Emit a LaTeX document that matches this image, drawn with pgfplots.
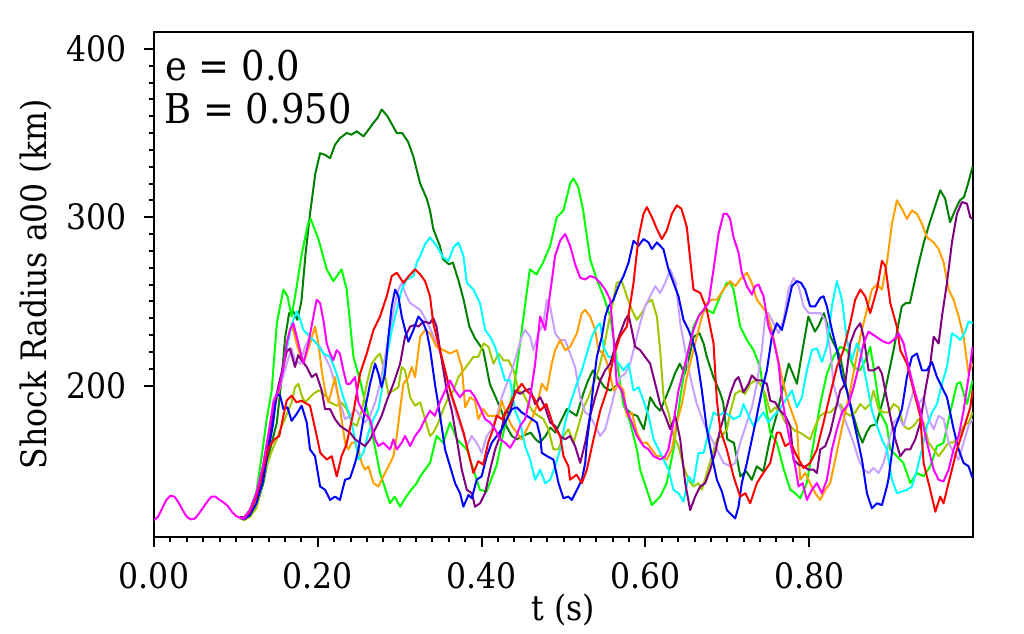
\documentclass[border=0pt]{standalone}
\usepackage{fontspec}
\setmainfont{DejaVu Serif}[FakeStretch=0.9]
\usepackage{pgfplots}
\pgfplotsset{compat=1.18}
\definecolor{cDG}{RGB}{0,128,0}
\definecolor{cG}{RGB}{0,255,0}
\definecolor{cR}{RGB}{255,0,0}
\definecolor{cB}{RGB}{0,0,255}
\definecolor{cC}{RGB}{0,255,255}
\definecolor{cM}{RGB}{255,0,255}
\definecolor{cO}{RGB}{255,160,0}
\definecolor{cP}{RGB}{128,0,128}
\definecolor{cYG}{RGB}{160,200,0}
\definecolor{cL}{RGB}{200,160,255}
\begin{document}
\begin{tikzpicture}
\begin{axis}[
  scale only axis, width=409.5pt, height=252.5pt,
  xmin=0, xmax=1, ymin=110, ymax=410,
  axis line style={line width=1pt},
  tick style={line width=1pt, black},
  tick align=outside, tick pos=left,
  major tick length=5pt, minor tick length=2.5pt,
  xtick={0,0.2,0.4,0.6,0.8}, ytick={200,300,400},
  minor x tick num=9, minor y tick num=9,
  /pgf/number format/assume math mode=true,
  tick label style={font=\fontsize{17.5}{21}\selectfont},
  xticklabel style={anchor=base, yshift=-20.5pt, /pgf/number format/.cd, fixed, fixed zerofill, precision=2},
  yticklabel style={anchor=east, inner sep=0pt, xshift=-8.5pt},
  label style={font=\fontsize{17.5}{21}\selectfont},
  xlabel={t (s)},
  xlabel style={at={(axis description cs:0.5,-0.1644)}, anchor=base, inner sep=0pt},
  ylabel={Shock Radius a00 (km)},
  ylabel style={at={(axis description cs:-0.1636,0.5)}, anchor=north, inner sep=0pt},
  every axis plot/.append style={line width=1pt, line join=round, mark=none},
]
% dark green
\addplot[cDG] coordinates {(0.105,121.5) (0.11,121) (0.117,122) (0.125,128) (0.1335,142) (0.1417,162) (0.15,178) (0.156,205) (0.16,228) (0.165,243) (0.17,244) (0.175,239) (0.18,250) (0.185,278) (0.1905,302) (0.197,326) (0.2028,338) (0.209,337) (0.215,335) (0.221,343) (0.2272,347) (0.2353,350) (0.241,349) (0.2475,351) (0.2557,348) (0.262,352) (0.2679,356) (0.273,359) (0.2781,364) (0.285,360) (0.2964,350) (0.303,350) (0.31,345) (0.3167,336) (0.325,320) (0.333,311) (0.337,304) (0.341,293) (0.349,283) (0.353,275) (0.36,272) (0.365,273) (0.372,262) (0.378,251) (0.385,235) (0.392,228) (0.402,221) (0.41,201) (0.419,191) (0.425,184) (0.43,176) (0.437,170) (0.443,168) (0.45,170) (0.46,172) (0.466,168) (0.471,166) (0.478,170) (0.484,175) (0.49,172) (0.496,178) (0.504,186) (0.51,184) (0.516,182) (0.524,195) (0.53,203) (0.536,209) (0.543,204) (0.55,199) (0.557,197) (0.562,199) (0.568,201) (0.577,186) (0.583,183) (0.59,182) (0.598,174) (0.606,193) (0.612,188) (0.618,185) (0.624,192) (0.63,199) (0.636,207) (0.642,213) (0.648,207) (0.653,216) (0.659,229) (0.666,231) (0.671,225) (0.675,217) (0.683,205) (0.691,196) (0.695,190) (0.70,168) (0.708,166) (0.716,146) (0.723,149) (0.73,144) (0.736,152) (0.744,149) (0.752,168) (0.76,182) (0.769,201) (0.775,213) (0.78,207) (0.785,201) (0.79,216) (0.799,241) (0.807,232) (0.812,236) (0.818,243) (0.826,229) (0.832,223) (0.838,217) (0.846,197) (0.854,182) (0.86,172) (0.865,166) (0.87,172) (0.875,176) (0.882,177) (0.891,193) (0.897,207) (0.903,221) (0.913,247) (0.918,249) (0.923,249) (0.932,269) (0.94,285) (0.946,295) (0.952,304) (0.96,316) (0.966,311) (0.972,297) (0.978,304) (0.984,310) (0.989,312) (0.994,320) (0.9995,330)};
% green
\addplot[cG] coordinates {(0.105,121.5) (0.11,121) (0.117,126) (0.125,137) (0.1315,158) (0.1376,180) (0.1437,197) (0.15,237) (0.158,257) (0.163,253) (0.168,241) (0.174,258) (0.18,277) (0.188,296) (0.1913,299) (0.2007,287) (0.2109,269) (0.219,262) (0.229,269) (0.2353,257) (0.2435,217) (0.2516,203) (0.2638,178) (0.276,148) (0.2882,130) (0.294,134) (0.3005,128) (0.308,134) (0.314,138) (0.3208,142) (0.325,146) (0.331,150) (0.337,154) (0.345,170) (0.353,166) (0.3615,178) (0.37,168) (0.382,162) (0.39,150) (0.398,138) (0.406,137) (0.418,152) (0.431,182) (0.439,197) (0.447,225) (0.455,255) (0.459,269) (0.467,266) (0.475,273) (0.4837,283) (0.4918,300) (0.5,304) (0.5081,320) (0.512,323) (0.518,318) (0.524,304) (0.5325,275) (0.5407,263) (0.5488,253) (0.557,241) (0.565,215) (0.573,189) (0.5814,178) (0.5896,162) (0.5936,150) (0.6018,138) (0.6079,129) (0.618,134) (0.626,142) (0.6343,162) (0.6425,193) (0.6506,217) (0.6587,235) (0.6669,243) (0.675,245) (0.683,243) (0.6913,253) (0.6994,261) (0.7035,261) (0.7076,257) (0.7157,235) (0.724,227) (0.732,221) (0.740,211) (0.744,197) (0.7524,172) (0.7605,166) (0.769,150) (0.777,138) (0.783,136) (0.789,133) (0.797,142) (0.8053,166) (0.8135,189) (0.8216,207) (0.8297,217) (0.8379,223) (0.846,221) (0.8542,211) (0.862,209) (0.8705,217) (0.8745,223) (0.8786,211) (0.8867,184) (0.8949,176) (0.899,162) (0.907,158) (0.915,154) (0.9234,142) (0.9315,148) (0.9397,146) (0.9478,152) (0.956,164) (0.964,166) (0.9722,184) (0.9804,201) (0.9845,202) (0.9926,189) (0.9995,203)};
% yellow-green
\addplot[cYG] coordinates {(0.105,121) (0.11,120) (0.117,122) (0.125,127) (0.1315,140) (0.1376,152) (0.143,160) (0.1498,168) (0.154,174) (0.158,178) (0.163,184) (0.168,190) (0.1722,199) (0.1763,201) (0.1803,194) (0.1844,190) (0.1885,192) (0.1946,195) (0.2007,197) (0.2048,196) (0.2109,193) (0.215,190) (0.2231,188) (0.229,190) (0.2353,186) (0.2414,178) (0.2475,176) (0.2536,185) (0.2598,201) (0.2658,213) (0.272,217) (0.276,219) (0.2801,211) (0.2862,195) (0.2923,197) (0.2984,199) (0.3025,211) (0.3066,209) (0.3127,193) (0.3188,188) (0.325,190) (0.331,180) (0.337,170) (0.341,172) (0.3473,178) (0.3534,186) (0.3595,193) (0.3656,197) (0.3717,205) (0.3778,209) (0.384,213) (0.39,217) (0.396,217) (0.4023,225) (0.4084,223) (0.4145,213) (0.4206,219) (0.4267,215) (0.4328,215) (0.439,209) (0.445,197) (0.4511,195) (0.4572,189) (0.4633,184) (0.4694,182) (0.4755,180) (0.4816,174) (0.4877,162) (0.4938,162) (0.5,170) (0.5061,174) (0.5122,166) (0.5183,176) (0.5244,187) (0.5305,193) (0.5366,201) (0.5427,209) (0.5488,221) (0.555,237) (0.561,251) (0.565,261) (0.5712,262) (0.5773,253) (0.5834,245) (0.5895,239) (0.5957,243) (0.6018,249) (0.6079,251) (0.614,241) (0.618,221) (0.6222,193) (0.6282,184) (0.6343,170) (0.6404,164) (0.6465,152) (0.6527,144) (0.6587,140) (0.6649,142) (0.669,138) (0.675,148) (0.6812,158) (0.6873,168) (0.6934,170) (0.6995,174) (0.7035,184) (0.7096,195) (0.7157,197) (0.7218,195) (0.728,201) (0.734,203) (0.7401,201) (0.7463,195) (0.7524,184) (0.7585,187) (0.7646,185) (0.7707,178) (0.7768,176) (0.7829,173) (0.789,172) (0.7951,170) (0.8012,168) (0.8073,176) (0.8135,182) (0.8196,184) (0.8257,184) (0.8318,187) (0.8379,189) (0.844,184) (0.8501,182) (0.8562,184) (0.8623,189) (0.8684,186) (0.8745,189) (0.8786,197) (0.8847,186) (0.8908,184) (0.8969,184) (0.903,189) (0.9091,187) (0.9153,176) (0.9214,174) (0.9275,176) (0.9336,180) (0.9397,178) (0.9458,166) (0.952,162) (0.958,158) (0.9642,162) (0.9702,166) (0.9763,166) (0.9825,170) (0.9885,176) (0.9946,178) (0.9995,184)};
% lavender
\addplot[cL] coordinates {(0.105,121.5) (0.11,121) (0.117,126) (0.125,136) (0.133,152) (0.14,172) (0.146,192) (0.152,196) (0.158,206) (0.164,216) (0.168,222) (0.1722,215) (0.1783,213) (0.1844,223) (0.1905,229) (0.1966,226) (0.2028,223) (0.2088,217) (0.215,211) (0.221,201) (0.2272,190) (0.2333,180) (0.2394,182) (0.2455,186) (0.2516,182) (0.2577,178) (0.2638,182) (0.27,190) (0.276,201) (0.2821,217) (0.2882,233) (0.2944,249) (0.2984,257) (0.3025,261) (0.3066,255) (0.3127,249) (0.3188,247) (0.325,245) (0.331,240) (0.337,234) (0.345,225) (0.3514,217) (0.3575,205) (0.3636,193) (0.3697,182) (0.3758,174) (0.382,164) (0.388,170) (0.394,166) (0.4002,160) (0.4063,170) (0.4124,174) (0.4185,182) (0.4246,193) (0.4307,201) (0.4369,209) (0.443,219) (0.449,229) (0.4531,233) (0.4593,229) (0.4633,221) (0.4694,231) (0.4755,237) (0.4796,251) (0.4837,247) (0.4898,231) (0.4959,227) (0.502,227) (0.5081,219) (0.5142,211) (0.5204,193) (0.5265,184) (0.5325,182) (0.5387,176) (0.5448,170) (0.5509,174) (0.557,185) (0.5631,197) (0.5692,205) (0.5753,207) (0.5814,213) (0.5875,225) (0.5936,237) (0.5997,247) (0.6058,253) (0.612,259) (0.618,255) (0.6242,261) (0.6303,269) (0.637,261) (0.6425,237) (0.6486,221) (0.6547,205) (0.6628,189) (0.671,178) (0.679,170) (0.6873,162) (0.6954,154) (0.7035,152) (0.7096,154) (0.7157,166) (0.7239,178) (0.73,187) (0.7361,201) (0.7422,221) (0.7463,241) (0.7503,243) (0.7565,237) (0.7626,231) (0.7687,239) (0.7748,257) (0.7809,264) (0.787,259) (0.7931,247) (0.7992,243) (0.8053,243) (0.8135,243) (0.8196,239) (0.8257,221) (0.8297,201) (0.8359,189) (0.842,182) (0.848,174) (0.8542,166) (0.8603,156) (0.8664,150) (0.8725,148) (0.8786,151) (0.8847,148) (0.8908,154) (0.897,166) (0.903,178) (0.9091,181) (0.9153,176) (0.9214,187) (0.9275,197) (0.9336,189) (0.9397,193) (0.9458,180) (0.952,174) (0.958,182) (0.9642,180) (0.9702,166) (0.9763,160) (0.9825,156) (0.9885,166) (0.9946,176) (0.9995,180)};
% orange
\addplot[cO] coordinates {(0.105,121.5) (0.11,121) (0.117,125) (0.125,133) (0.133,148) (0.14,168) (0.146,185) (0.152,196) (0.158,210) (0.163,225) (0.168,237) (0.172,229) (0.1763,221) (0.1824,213) (0.1905,225) (0.1966,235) (0.2007,225) (0.2048,209) (0.2088,197) (0.2129,190) (0.217,197) (0.221,205) (0.2272,186) (0.2333,166) (0.2373,162) (0.2414,166) (0.2455,166) (0.2496,162) (0.2536,154) (0.2577,150) (0.2618,152) (0.268,142) (0.274,140) (0.28,146) (0.2862,152) (0.2923,158) (0.2964,170) (0.3005,186) (0.3045,201) (0.3106,205) (0.3147,211) (0.3188,205) (0.325,229) (0.331,233) (0.337,231) (0.345,223) (0.3534,221) (0.3615,219) (0.3697,221) (0.3758,211) (0.38,187) (0.386,193) (0.392,191) (0.396,180) (0.402,186) (0.408,182) (0.4145,182) (0.4206,182) (0.4246,191) (0.4307,182) (0.4369,176) (0.443,172) (0.449,168) (0.4552,174) (0.4613,180) (0.4674,188) (0.4735,201) (0.4796,197) (0.4857,213) (0.4898,221) (0.4959,227) (0.502,221) (0.5081,223) (0.5163,231) (0.5224,243) (0.5265,245) (0.5325,241) (0.5387,233) (0.5428,221) (0.5488,219) (0.555,211) (0.561,197) (0.5672,201) (0.5733,197) (0.5773,182) (0.5834,184) (0.5896,172) (0.5956,166) (0.6018,166) (0.6078,162) (0.614,158) (0.62,158) (0.626,156) (0.6323,162) (0.6384,178) (0.6445,189) (0.6506,205) (0.6567,217) (0.6628,229) (0.669,241) (0.675,249) (0.6812,251) (0.6873,251) (0.6954,257) (0.7035,262) (0.7096,259) (0.7157,263) (0.7239,267) (0.73,261) (0.7361,251) (0.7422,247) (0.7483,243) (0.7544,233) (0.7605,219) (0.7666,205) (0.7727,193) (0.7789,184) (0.785,176) (0.789,144) (0.795,148) (0.8012,142) (0.8073,136) (0.8135,132) (0.8196,138) (0.8257,142) (0.8318,156) (0.8379,170) (0.844,184) (0.8501,197) (0.8562,213) (0.8623,229) (0.8705,245) (0.8766,257) (0.8827,260) (0.8888,257) (0.8949,273) (0.901,296) (0.9071,310) (0.9132,305) (0.9193,299) (0.9254,304) (0.9315,302) (0.9377,296) (0.9438,288) (0.952,285) (0.958,281) (0.9642,273) (0.9702,257) (0.9763,251) (0.9825,241) (0.9885,229) (0.9946,207) (0.9995,213)};
% cyan
\addplot[cC] coordinates {(0.105,121.5) (0.11,121) (0.117,126) (0.125,135) (0.133,150) (0.14,170) (0.145,182) (0.15,195) (0.156,205) (0.162,222) (0.168,236) (0.174,244) (0.178,240) (0.1824,233) (0.1905,229) (0.1987,225) (0.2068,219) (0.215,217) (0.223,207) (0.2312,193) (0.2394,182) (0.2455,168) (0.2496,156) (0.2557,160) (0.2618,172) (0.268,180) (0.274,186) (0.278,197) (0.2842,217) (0.2903,233) (0.2964,245) (0.3025,257) (0.3086,263) (0.3168,265) (0.3208,273) (0.325,277) (0.331,284) (0.337,288) (0.345,283) (0.3534,276) (0.3595,274) (0.3656,282) (0.3717,285) (0.3778,277) (0.382,261) (0.39,257) (0.398,249) (0.4043,233) (0.4104,229) (0.4165,223) (0.4226,213) (0.4287,203) (0.4348,203) (0.441,185) (0.447,178) (0.4531,164) (0.4593,156) (0.4654,144) (0.4715,150) (0.4776,142) (0.4837,144) (0.4898,152) (0.4959,162) (0.502,178) (0.5081,189) (0.5163,201) (0.5224,209) (0.5285,219) (0.5346,229) (0.5407,235) (0.5448,237) (0.5488,223) (0.555,217) (0.561,217) (0.5672,213) (0.5733,209) (0.5794,213) (0.5855,197) (0.5916,199) (0.5977,191) (0.6038,182) (0.61,168) (0.616,162) (0.622,156) (0.6282,150) (0.6343,138) (0.6404,136) (0.6465,131) (0.6527,146) (0.6587,142) (0.6649,160) (0.671,160) (0.6771,172) (0.6832,184) (0.6893,182) (0.6954,184) (0.7035,182) (0.7076,180) (0.7157,182) (0.7198,189) (0.726,182) (0.732,176) (0.738,180) (0.7442,184) (0.7503,178) (0.7565,182) (0.7626,185) (0.7707,191) (0.7789,197) (0.785,187) (0.7911,193) (0.7972,209) (0.8033,221) (0.8094,222) (0.8155,214) (0.8216,223) (0.8277,247) (0.8338,262) (0.84,251) (0.846,227) (0.8521,215) (0.8583,225) (0.8623,221) (0.8705,201) (0.8766,185) (0.8827,176) (0.8888,168) (0.8949,162) (0.901,144) (0.9071,136) (0.9132,137) (0.9193,138) (0.9254,140) (0.9315,150) (0.9377,162) (0.9438,176) (0.9499,184) (0.956,189) (0.9621,201) (0.9682,211) (0.9743,231) (0.9804,229) (0.9845,227) (0.9905,232) (0.9946,238) (0.9995,237)};
% purple
\addplot[cP] coordinates {(0.105,122) (0.11,121.5) (0.117,126) (0.125,134) (0.133,148) (0.14,168) (0.146,185) (0.152,200) (0.158,212) (0.162,220) (0.166,222) (0.1722,211) (0.176,218) (0.1803,215) (0.1865,211) (0.1926,205) (0.198,207) (0.2048,197) (0.2088,186) (0.215,186) (0.221,180) (0.2272,176) (0.2333,174) (0.2394,172) (0.2455,168) (0.2516,166) (0.2577,164) (0.2638,168) (0.272,176) (0.278,182) (0.2842,191) (0.2923,201) (0.3005,213) (0.3066,229) (0.3127,235) (0.3188,236) (0.3228,235) (0.329,238) (0.337,237) (0.341,240) (0.345,235) (0.3493,221) (0.3534,209) (0.3575,197) (0.3636,185) (0.3697,168) (0.3758,150) (0.382,138) (0.388,136) (0.392,128) (0.398,130) (0.4043,136) (0.4104,150) (0.4165,162) (0.4226,170) (0.4287,184) (0.4348,184) (0.441,197) (0.447,195) (0.4531,197) (0.4593,198) (0.4654,189) (0.4715,193) (0.4776,187) (0.4837,178) (0.4898,176) (0.4959,170) (0.502,168) (0.5081,170) (0.5142,164) (0.5204,154) (0.5265,166) (0.5325,182) (0.5387,193) (0.5448,203) (0.5509,209) (0.557,213) (0.5631,223) (0.5692,231) (0.5753,239) (0.5794,242) (0.5834,233) (0.5875,223) (0.5936,221) (0.5997,217) (0.6058,213) (0.612,201) (0.618,189) (0.6242,182) (0.6303,174) (0.6364,182) (0.6425,168) (0.6486,142) (0.6547,126) (0.6608,134) (0.6669,140) (0.673,142) (0.6791,150) (0.6852,160) (0.6913,174) (0.6974,184) (0.7035,195) (0.7096,203) (0.7137,205) (0.7198,196) (0.726,201) (0.73,206) (0.736,203) (0.7422,203) (0.7483,201) (0.7524,191) (0.7585,190) (0.7646,185) (0.7707,182) (0.7768,176) (0.7809,156) (0.787,153) (0.7931,152) (0.7992,150) (0.8053,150) (0.8094,148) (0.8135,162) (0.8196,164) (0.8257,172) (0.8318,185) (0.8379,197) (0.844,201) (0.8501,225) (0.8562,233) (0.8623,237) (0.8664,229) (0.8725,209) (0.8786,209) (0.8847,211) (0.8888,207) (0.8929,197) (0.899,182) (0.9051,168) (0.9112,158) (0.9173,162) (0.9234,162) (0.9295,168) (0.9356,178) (0.9417,197) (0.9478,213) (0.952,229) (0.958,225) (0.9621,241) (0.9682,261) (0.9743,285) (0.9804,302) (0.9865,309) (0.9926,308) (0.9967,300) (0.9995,299)};
% blue
\addplot[cB] coordinates {(0.105,121.5) (0.11,120.5) (0.117,123) (0.125,130) (0.133,143) (0.14,163) (0.145,176) (0.1498,195) (0.154,194) (0.158,186) (0.163,187) (0.168,179) (0.174,183) (0.1803,188) (0.1865,178) (0.1905,162) (0.1966,158) (0.2028,140) (0.209,138) (0.215,132) (0.221,134) (0.227,132) (0.2333,144) (0.2394,145) (0.2455,154) (0.2496,162) (0.2536,174) (0.2577,186) (0.2638,201) (0.27,213) (0.274,207) (0.278,199) (0.282,207) (0.2862,229) (0.2903,247) (0.2944,257) (0.2984,253) (0.3025,241) (0.3066,233) (0.3106,226) (0.3168,233) (0.3228,241) (0.328,238) (0.333,232) (0.337,222) (0.343,201) (0.3493,182) (0.3554,162) (0.3615,152) (0.3676,142) (0.3737,136) (0.3778,128) (0.384,135) (0.388,133) (0.394,144) (0.4,146) (0.4063,158) (0.4124,166) (0.4185,170) (0.4246,174) (0.4307,180) (0.4369,186) (0.443,187) (0.449,184) (0.4552,182) (0.4613,180) (0.4674,178) (0.4715,170) (0.4735,160) (0.48,158) (0.4877,156) (0.4939,142) (0.5,133) (0.506,134) (0.5102,132) (0.5163,138) (0.5224,144) (0.5265,154) (0.5285,166) (0.5325,182) (0.5366,201) (0.5407,217) (0.5468,229) (0.5509,241) (0.555,247) (0.561,251) (0.5672,259) (0.5733,265) (0.5794,273) (0.5855,286) (0.5916,283) (0.5977,287) (0.6038,285) (0.608,281) (0.614,285) (0.622,281) (0.6282,269) (0.6343,261) (0.6404,253) (0.6465,239) (0.6527,233) (0.6587,225) (0.6628,217) (0.669,197) (0.675,174) (0.6812,158) (0.6873,144) (0.6934,137) (0.6995,126) (0.7035,124) (0.7096,121) (0.7137,128) (0.7177,142) (0.7239,154) (0.73,168) (0.7361,182) (0.7422,197) (0.7483,209) (0.7544,229) (0.7605,237) (0.7666,233) (0.7727,245) (0.7789,259) (0.785,262) (0.79,261) (0.7951,257) (0.8012,247) (0.8073,247) (0.8135,252) (0.8175,253) (0.8216,247) (0.8277,233) (0.8338,221) (0.84,205) (0.846,197) (0.8521,184) (0.8583,170) (0.8644,156) (0.8705,136) (0.8766,127) (0.8827,130) (0.8888,129) (0.8949,140) (0.897,145) (0.901,160) (0.905,175) (0.9132,186) (0.9193,205) (0.9254,217) (0.9315,219) (0.9377,209) (0.9438,209) (0.9499,214) (0.956,205) (0.9621,199) (0.9682,193) (0.9764,174) (0.9825,162) (0.9885,154) (0.9946,152) (0.9995,145)};
% red
\addplot[cR] coordinates {(0.105,121.5) (0.11,121) (0.117,125) (0.125,134) (0.133,150) (0.14,163) (0.147,168) (0.153,170) (0.158,182) (0.162,191) (0.168,194) (0.174,190) (0.18,191) (0.1905,188) (0.1987,170) (0.203,160) (0.2109,156) (0.217,158) (0.2231,146) (0.229,158) (0.235,165) (0.2435,184) (0.2516,207) (0.2598,219) (0.268,233) (0.276,241) (0.2842,253) (0.2903,265) (0.2964,267) (0.3045,261) (0.311,265) (0.3188,269) (0.325,266) (0.331,262) (0.337,253) (0.341,237) (0.347,225) (0.3534,213) (0.3615,197) (0.3697,185) (0.378,172) (0.386,156) (0.39,148) (0.396,155) (0.402,153) (0.408,166) (0.414,174) (0.4185,182) (0.425,180) (0.435,189) (0.443,197) (0.449,201) (0.455,197) (0.4633,193) (0.4714,185) (0.479,189) (0.4877,176) (0.4959,170) (0.5,158) (0.506,152) (0.508,144) (0.516,147) (0.5224,142) (0.5285,150) (0.5366,168) (0.5448,185) (0.553,197) (0.561,217) (0.569,229) (0.5773,235) (0.5855,261) (0.5916,288) (0.5977,302) (0.6018,306) (0.608,300) (0.614,293) (0.62,287) (0.626,292) (0.6323,302) (0.6384,307) (0.644,305) (0.6506,294) (0.6547,275) (0.6587,257) (0.667,255) (0.675,245) (0.6832,225) (0.6873,191) (0.6913,174) (0.6994,162) (0.7076,146) (0.7157,134) (0.722,136) (0.728,130) (0.7361,142) (0.744,148) (0.7524,154) (0.7605,172) (0.7646,172) (0.7707,164) (0.777,166) (0.785,158) (0.7931,151) (0.8012,154) (0.8094,162) (0.8175,178) (0.8257,195) (0.8338,211) (0.842,221) (0.8501,237) (0.8562,251) (0.8623,257) (0.8684,253) (0.8745,243) (0.8827,257) (0.8888,274) (0.893,271) (0.899,249) (0.907,235) (0.9112,221) (0.9193,213) (0.9275,197) (0.9356,182) (0.9397,154) (0.9478,138) (0.954,125) (0.96,134) (0.964,130) (0.9722,146) (0.9804,162) (0.9885,174) (0.9967,187) (0.9995,197)};
% magenta
\addplot[cM] coordinates {(0.105,121.5) (0.11,121) (0.117,126) (0.125,136) (0.133,152) (0.14,172) (0.146,190) (0.152,197) (0.158,210) (0.162,225) (0.166,233) (0.1702,237) (0.1763,225) (0.1824,213) (0.1885,225) (0.1946,241) (0.1987,251) (0.2028,249) (0.2068,239) (0.2109,225) (0.215,219) (0.219,215) (0.223,221) (0.227,219) (0.2312,209) (0.2353,201) (0.2394,201) (0.2455,205) (0.2496,190) (0.2557,184) (0.2638,180) (0.27,168) (0.274,164) (0.28,166) (0.2882,162) (0.2923,168) (0.2964,162) (0.3025,166) (0.3066,170) (0.3127,164) (0.3188,170) (0.325,174) (0.331,180) (0.337,185) (0.343,182) (0.349,190) (0.3554,197) (0.3615,203) (0.3676,197) (0.3737,193) (0.38,197) (0.386,197) (0.392,193) (0.398,187) (0.4043,180) (0.4104,178) (0.4165,174) (0.4226,168) (0.4287,166) (0.4348,163) (0.441,168) (0.447,176) (0.4531,180) (0.4593,193) (0.4654,213) (0.4715,241) (0.4776,233) (0.4837,255) (0.4898,277) (0.4959,286) (0.502,290) (0.5081,283) (0.5142,272) (0.5204,264) (0.5265,263) (0.5325,265) (0.5387,264) (0.5448,261) (0.5509,257) (0.557,251) (0.561,229) (0.565,201) (0.5712,197) (0.5773,185) (0.5834,178) (0.5896,170) (0.5977,164) (0.6038,162) (0.61,158) (0.618,156) (0.624,158) (0.628,162) (0.6343,178) (0.6404,197) (0.6465,209) (0.6527,221) (0.6587,233) (0.6649,241) (0.671,245) (0.6771,249) (0.6832,269) (0.6893,290) (0.6954,302) (0.6994,302) (0.7035,299) (0.7076,288) (0.7137,279) (0.7177,267) (0.7239,259) (0.73,254) (0.734,259) (0.7381,260) (0.7442,253) (0.7503,235) (0.7565,227) (0.7626,213) (0.7666,193) (0.7707,182) (0.7768,166) (0.783,152) (0.787,140) (0.792,142) (0.7972,132) (0.8033,138) (0.8094,142) (0.8155,136) (0.8216,144) (0.8277,162) (0.8338,174) (0.84,184) (0.848,189) (0.8542,199) (0.8603,211) (0.8664,225) (0.8725,232) (0.8786,230) (0.8847,228) (0.8908,226) (0.897,225) (0.903,227) (0.9091,231) (0.9153,225) (0.9214,211) (0.9275,199) (0.9356,185) (0.9438,166) (0.952,150) (0.958,144) (0.964,143) (0.9702,150) (0.9763,162) (0.9825,170) (0.9885,185) (0.9946,205) (0.9995,223)};
% common early part (all models coincide; magenta on top)
\addplot[cM] coordinates {(0,120) (0.005,122) (0.01,127) (0.015,132) (0.02,134.5) (0.025,134) (0.03,130.5) (0.035,126) (0.04,122) (0.045,120.5) (0.05,121) (0.055,124) (0.06,127.5) (0.065,131) (0.07,134) (0.075,134) (0.08,132) (0.085,130.5) (0.09,128.5) (0.095,125) (0.1,122.5) (0.105,121.5) (0.11,121)};
\node[anchor=base west, inner sep=0pt, xshift=5.5pt, yshift=-24.35pt, font=\fontsize{20.5}{24}\selectfont] at (rel axis cs:0,1) {e = 0.0};
\node[anchor=base west, inner sep=0pt, xshift=5pt, yshift=-45.5pt, font=\fontsize{20.5}{24}\selectfont] at (rel axis cs:0,1) {B = 0.950};
\end{axis}
\pgfresetboundingbox
\path[use as bounding box] (-77pt,-48pt) rectangle (435pt,268.5pt);
\end{tikzpicture}
\end{document}
